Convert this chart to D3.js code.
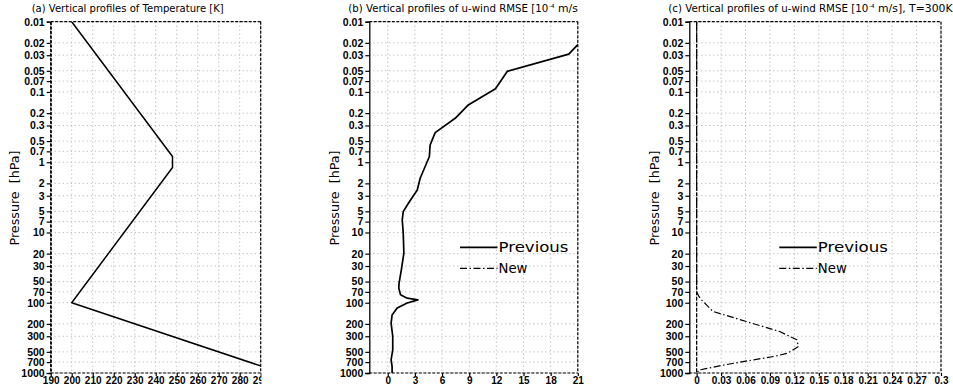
<!DOCTYPE html>
<html>
<head>
<meta charset="utf-8">
<script src="https://cdn.jsdelivr.net/npm/d3@7"></script>
<style>
  body { margin: 0; background: #fff; }
  svg { display: block; }
</style>
</head>
<body>
<div id="chart"></div>
<script>
// pressure levels used for the y ticks (hPa)
const pressureTicks = [0.01, 0.02, 0.03, 0.05, 0.07, 0.1, 0.2, 0.3, 0.5, 0.7, 1, 2, 3, 5, 7, 10, 20, 30, 50, 70, 100, 200, 300, 500, 700, 1000]

// (a) temperature profile
const tempPressure = [0.01, 0.83, 1.19, 100, 1000]
const tempValue = [200, 248, 248, 200, 300]
const tempTicks = [190, 200, 210, 220, 230, 240, 250, 260, 270, 280, 290]

// (b) u-wind RMSE, previous scheme
const prevPressure = [0.01, 0.02, 0.029, 0.051, 0.09, 0.153, 0.237, 0.379, 0.568, 0.83, 1.69, 2.48, 3.44, 3.83, 5.05, 6.6, 10.2, 19.7, 34, 52.6, 62, 77, 86, 91, 101, 119, 149, 195, 302, 468, 649, 807, 1000]
const prevValue = [23.5, 21.2, 20.0, 13.2, 11.9, 8.9, 7.45, 5.24, 4.68, 4.6, 3.58, 3.26, 2.52, 2.28, 1.71, 1.6, 1.71, 1.78, 1.5, 1.25, 1.22, 1.41, 2.15, 3.33, 2.15, 1.04, 0.48, 0.37, 0.55, 0.55, 0.37, 0.48, 0.48]
const rmseTicksB = [0, 3, 6, 9, 12, 15, 18, 21]

// (c) u-wind RMSE, new scheme
const newPressure = [0.01, 70, 82, 91, 133, 185, 257, 337, 420, 521, 582, 649, 764, 901, 1000]
const newValue = [0, 0, 0.003, 0.006, 0.02, 0.061, 0.102, 0.123, 0.125, 0.112, 0.095, 0.07, 0.035, 0.004, 0]
const rmseTicksC = [0, 0.03, 0.06, 0.09, 0.12, 0.15, 0.18, 0.21, 0.24, 0.27, 0.3]

const width = 953
const height = 389
const plotTop = 21.7, plotBottom = 373

const svg = d3.select('#chart').append('svg')
  .attr('width', width)
  .attr('height', height)

const yScale = d3.scaleLog().domain([0.01, 1000]).range([plotTop, plotBottom])

const panels = [
  { id: 'a', title: '(a) Vertical profiles of Temperature [K]', titleLen: 192, titleX: 31.7,
    left: 50.7, right: 260.7, domain: [190, 290], ticks: tempTicks, leftDashed: true,
    titleClip: 261.5, labelClip: 261.5, yTitleX: 15,
    lines: [{ p: tempPressure, v: tempValue, dash: null, w: 1.5 }], legend: false },
  { id: 'b', title: '(b) Vertical profiles of u-wind RMSE [10', titleLen: 200, titleX: 348.3,
    left: 369.3, right: 577.8, domain: [-2.04, 21], ticks: rmseTicksB, leftDashed: false,
    titleClip: 579, labelClip: 620, yTitleX: 335,
    lines: [{ p: prevPressure, v: prevValue, dash: null, w: 1.7 }], legend: true, legendX: 460 },
  { id: 'c', title: '(c) Vertical profiles of u-wind RMSE [10', titleLen: 200, titleX: 668.3,
    left: 689.3, right: 941, domain: [-0.009, 0.3], ticks: rmseTicksC, leftDashed: false,
    titleClip: 953, labelClip: 953, yTitleX: 655, zeroLine: true,
    lines: [{ p: newPressure, v: newValue, dash: '7,2.5,1.5,2.5', w: 1.2 }], legend: true, legendX: 779.3 }
]

const tickFmt = d => String(+d.toFixed(2))

const addClip = (id, x0, y0, x1, y1) => {
  svg.append('clipPath').attr('id', id)
    .append('rect').attr('x', x0).attr('y', y0)
    .attr('width', x1 - x0).attr('height', y1 - y0)
}

panels.forEach(pn => {
  const x = d3.scaleLinear().domain(pn.domain).range([pn.left, pn.right])

  addClip('title-' + pn.id, pn.left - 80, 0, pn.titleClip, plotTop)
  addClip('label-' + pn.id, pn.left - 80, 0, pn.labelClip, height)
  addClip('plot-' + pn.id, pn.left, plotTop, pn.right, plotBottom)

  const g = svg.append('g')

  // title
  const t = g.append('text')
    .attr('clip-path', `url(#title-${pn.id})`)
    .attr('x', pn.titleX).attr('y', 11.5)
    .style('font-family', 'DejaVu Sans')
    .style('font-size', '10.5px')
  if (pn.id === 'a') {
    t.text(pn.title).attr('textLength', pn.titleLen).attr('lengthAdjust', 'spacingAndGlyphs')
  } else {
    t.append('tspan').text(pn.title).attr('textLength', pn.titleLen).attr('lengthAdjust', 'spacingAndGlyphs')
    t.append('tspan').text('-4').style('font-size', '5.5px').attr('dx', 0.8).attr('dy', -3.5)
    t.append('tspan').text(' m/s], T=300K').attr('dy', 3.5)
      .attr('textLength', 78).attr('lengthAdjust', 'spacingAndGlyphs')
  }

  // grid
  g.append('g').selectAll('line.hg').data(pressureTicks).join('line')
    .attr('x1', pn.left).attr('x2', pn.right)
    .attr('y1', d => yScale(d)).attr('y2', d => yScale(d))
    .attr('stroke', '#aaa').attr('stroke-width', 1).attr('stroke-dasharray', '1,3')
  g.append('g').selectAll('line.vg').data(pn.ticks).join('line')
    .attr('x1', d => x(d)).attr('x2', d => x(d))
    .attr('y1', plotTop).attr('y2', plotBottom)
    .attr('stroke', '#aaa').attr('stroke-width', 1).attr('stroke-dasharray', '1,3')

  // frame: dashed top/right/bottom
  const frame = [
    [pn.left, plotTop, pn.right, plotTop],
    [pn.right, plotTop, pn.right, plotBottom],
    [pn.left, plotBottom, pn.right, plotBottom]
  ]
  if (pn.leftDashed) frame.push([pn.left, plotTop, pn.left, plotBottom])
  g.append('g').selectAll('line').data(frame).join('line')
    .attr('x1', d => d[0]).attr('y1', d => d[1]).attr('x2', d => d[2]).attr('y2', d => d[3])
    .attr('stroke', '#000').attr('stroke-width', 1.2).attr('stroke-dasharray', '3,1.5')

  // y axis
  const yAxis = d3.axisLeft(yScale).tickValues(pressureTicks)
    .tickFormat(tickFmt).tickSize(4).tickPadding(2)
  const ya = g.append('g').attr('transform', `translate(${pn.left},0)`).call(yAxis)
  ya.select('.domain').attr('stroke-width', 1.3)
    .attr('stroke-dasharray', pn.leftDashed ? '3,1.5' : null)
  ya.selectAll('.tick line').attr('stroke-width', 1.2)
  ya.selectAll('text')
    .style('font-family', 'Liberation Sans').style('font-weight', 'bold').style('font-size', '10.5px')

  // x axis
  const xAxis = d3.axisBottom(x).tickValues(pn.ticks).tickFormat(tickFmt).tickSize(3).tickPadding(1)
  const xa = g.append('g').attr('clip-path', `url(#label-${pn.id})`)
    .append('g').attr('transform', `translate(0,${plotBottom})`).call(xAxis)
  xa.select('.domain').remove()
  xa.selectAll('.tick line').attr('stroke-width', 1.2)
  xa.selectAll('text')
    .style('font-family', 'Liberation Sans').style('font-weight', 'bold').style('font-size', '10px')

  // y axis title
  g.append('text')
    .attr('transform', `translate(${pn.yTitleX + 4},${198}) rotate(-90)`)
    .attr('text-anchor', 'middle')
    .attr('textLength', 95).attr('lengthAdjust', 'spacingAndGlyphs')
    .style('font-family', 'DejaVu Sans').style('font-size', '12.5px')
    .style('white-space', 'pre')
    .text('Pressure  [hPa]')

  // curves
  const plot = g.append('g').attr('clip-path', `url(#plot-${pn.id})`)
  if (pn.zeroLine) {
    plot.append('line')
      .attr('x1', x(0)).attr('x2', x(0)).attr('y1', plotTop).attr('y2', plotBottom)
      .attr('stroke', '#000').attr('stroke-width', 1.3).attr('stroke-dasharray', '4,1.5')
  }
  const line = d3.line().x(d => x(d[1])).y(d => yScale(d[0]))
  pn.lines.forEach(ln => {
    plot.append('path')
      .datum(d3.zip(ln.p, ln.v))
      .attr('d', line)
      .attr('fill', 'none')
      .attr('stroke', '#000')
      .attr('stroke-width', ln.w)
      .attr('stroke-linejoin', 'round')
      .attr('stroke-dasharray', ln.dash)
  })

  // legend
  if (pn.legend) {
    const items = [
      { label: 'Previous', dash: null, w: 1.7, y: 247.3, len: 70 },
      { label: 'New', dash: '7,2.5,1.5,2.5', w: 1.2, y: 268.3, len: 29 }
    ]
    const lg = g.append('g')
    items.forEach(it => {
      lg.append('line')
        .attr('x1', pn.legendX).attr('x2', pn.legendX + 37.5)
        .attr('y1', it.y).attr('y2', it.y)
        .attr('stroke', '#000').attr('stroke-width', it.w)
        .attr('stroke-dasharray', it.dash)
      lg.append('text')
        .attr('x', pn.legendX + 38.5).attr('y', it.y + 5)
        .attr('textLength', it.len).attr('lengthAdjust', 'spacingAndGlyphs')
        .style('font-family', 'DejaVu Sans').style('font-size', '14px')
        .text(it.label)
    })
  }
})
</script>
</body>
</html>
